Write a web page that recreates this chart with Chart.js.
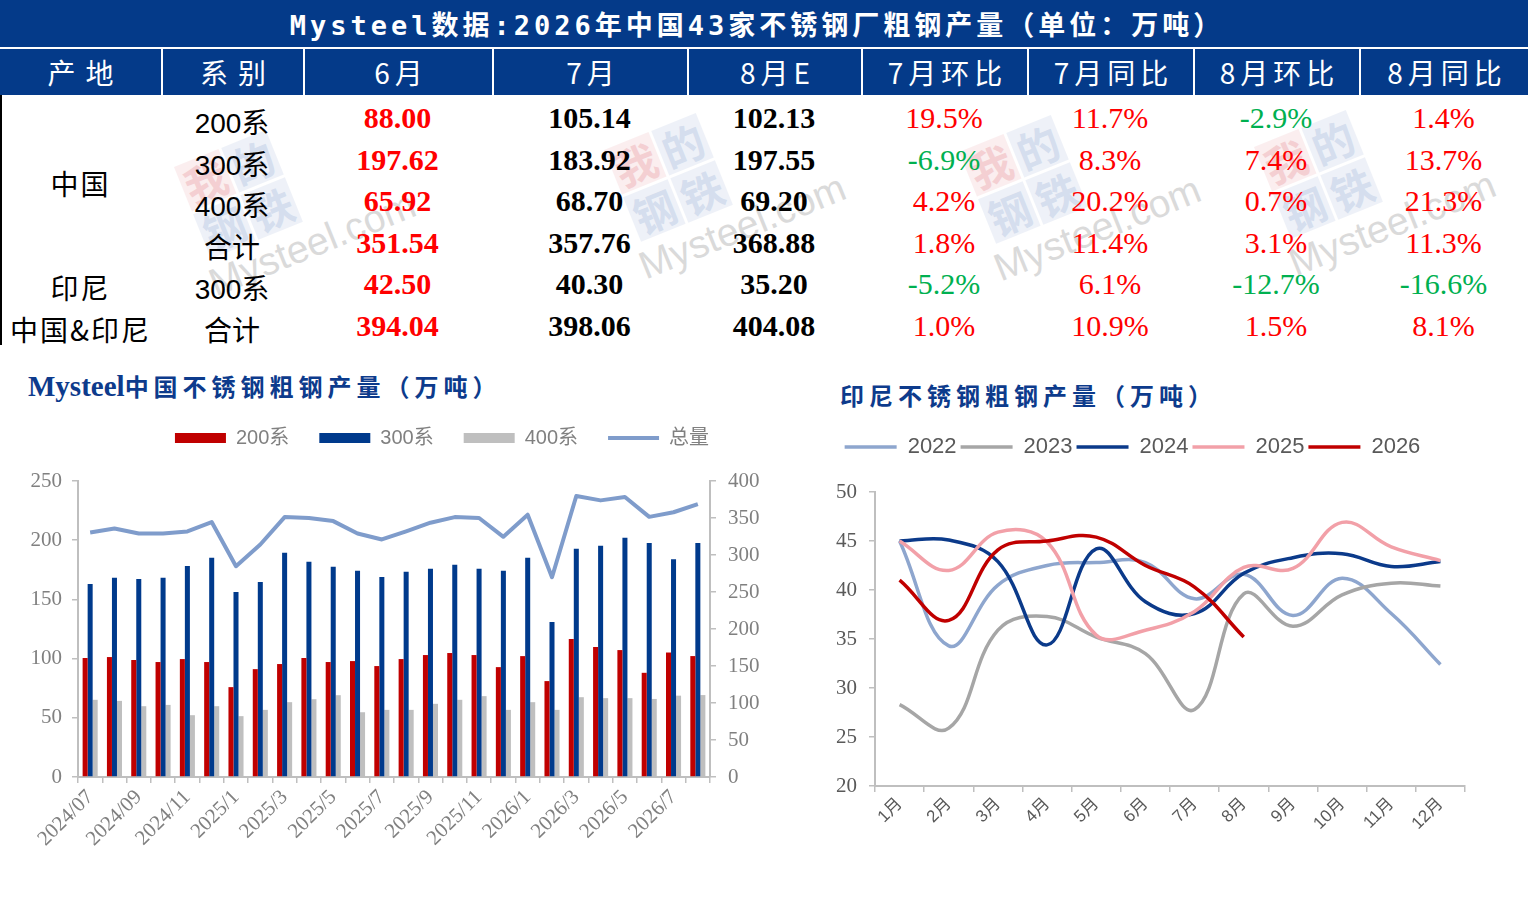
<!DOCTYPE html>
<html><head><meta charset="utf-8">
<script src="https://cdn.jsdelivr.net/npm/chart.js@4.4.1/dist/chart.umd.min.js"></script>
<style>
html,body{margin:0;padding:0;background:#fff;}
body{width:1528px;height:921px;position:relative;overflow:hidden;font-family:"Liberation Serif","Noto Sans CJK SC",serif;}
#titlebar{position:absolute;left:0;top:0;width:1514px;padding-right:14px;padding-top:4px;height:43px;background:#043A89;color:#fff;font:bold 27px "DejaVu Sans Mono","Noto Sans CJK SC",monospace;letter-spacing:4px;line-height:43px;text-align:center;z-index:2;}
.hcell{position:absolute;top:49px;height:46px;background:#043A89;color:#fff;font:28px "Noto Sans CJK SC",sans-serif;line-height:46px;text-align:center;box-sizing:border-box;z-index:2;}
.cell{position:absolute;height:40px;line-height:40px;text-align:center;white-space:nowrap;transform:translateX(-50%);z-index:2;}
.num{font:bold 30px "Liberation Serif",serif;}
.pct{font:30px "Liberation Serif",serif;}
.ser{font:28px "Liberation Sans","Noto Sans CJK SC",sans-serif;color:#000;}
.reg{font:28px "Noto Sans CJK SC",sans-serif;color:#000;letter-spacing:2px;}
.ctitle{position:absolute;color:#0D3B8C;font:bold 24px "Noto Sans CJK SC",serif;letter-spacing:5px;white-space:nowrap;z-index:2;}
.ctitle .lat{font:bold 29px "Liberation Serif",serif;letter-spacing:0;}
.wm{position:absolute;transform:rotate(-22deg);transform-origin:0 0;opacity:0.42;z-index:1;}
.wm .sq{display:grid;grid-template-columns:48px 48px;grid-gap:3px;}
.wm .sq span{display:block;width:48px;height:48px;font:bold 42px "Noto Sans CJK SC";line-height:48px;text-align:center;}
.wm .t{font:39px "Liberation Sans",sans-serif;color:#a8a8a8;margin-top:2px;margin-left:-10px;white-space:nowrap;}
#c1wrap{position:absolute;left:0;top:398px;width:884px;height:502px;z-index:3;}
#c2wrap{position:absolute;left:800px;top:432px;width:756px;height:468px;z-index:3;}
</style></head>
<body>
<div id="titlebar">Mysteel数据:2026年中国43家不锈钢厂粗钢产量（单位：万吨）</div>
<div id="table"></div>
<div class="ctitle" style="left:28px;top:368px;"><span class="lat">Mysteel</span>中国不锈钢粗钢产量（万吨）</div>
<div class="ctitle" style="left:840px;top:377px;">印尼不锈钢粗钢产量（万吨）</div>
<div id="c1wrap"><canvas id="c1"></canvas></div>
<div id="c2wrap"><canvas id="c2"></canvas></div>
<script>
// ---------- table data ----------
const tableHeaders = ['产地','系别','6月','7月','8月E','7月环比','7月同比','8月环比','8月同比'];
const colWidths = [161,142,189,195,174,166,166,166,169];
const regionLabels = ['中国','印尼','中国&印尼'];
const regionRows = [[0,3],[4,4],[5,5]];
const seriesLabels = ['200系','300系','400系','合计','300系','合计'];
const valJun = [88.00,197.62,65.92,351.54,42.50,394.04];
const valJul = [105.14,183.92,68.70,357.76,40.30,398.06];
const valAug = [102.13,197.55,69.20,368.88,35.20,404.08];
const julMoM = [19.5,-6.9,4.2,1.8,-5.2,1.0];
const julYoY = [11.7,8.3,20.2,11.4,6.1,10.9];
const augMoM = [-2.9,7.4,0.7,3.1,-12.7,1.5];
const augYoY = [1.4,13.7,21.3,11.3,-16.6,8.1];

// ---------- left chart data ----------
const monthLabels = ['2024/07','2024/08','2024/09','2024/10','2024/11','2024/12',
 '2025/1','2025/2','2025/3','2025/4','2025/5','2025/6','2025/7','2025/8','2025/9','2025/10','2025/11','2025/12',
 '2026/1','2026/2','2026/3','2026/4','2026/5','2026/6','2026/7','2026/8'];
const china200 = [100.5,101.3,98.8,97.1,99.6,97.1,75.9,91.1,95.4,100.5,97.1,97.9,93.7,99.6,103.0,104.7,103.0,92.8,102.1,81.0,116.5,109.8,107.2,88.00,105.14,102.13];
const china300 = [163.1,168.2,167.3,168.2,178.3,185.1,156.3,164.8,189.3,181.7,177.5,174.1,169.0,173.3,175.8,179.2,175.8,174.1,185.1,130.9,192.7,195.3,202.0,197.62,183.92,197.55];
const china400 = [65.2,64.3,59.8,60.9,52.2,59.8,51.4,56.7,63.2,65.7,69.1,54.7,56.7,56.7,61.8,65.2,68.3,56.7,63.2,56.7,67.4,66.6,66.6,65.92,68.70,69.20];
const chinaTotal = [330.5,335.9,329.0,329.0,331.8,344.5,284.9,314.2,351.2,349.9,345.8,329.0,321.0,332.0,343.6,351.2,350.0,324.6,354.4,270.0,379.7,373.8,378.3,351.54,357.76,368.88];

// ---------- right chart data ----------
const monthNames = ['1月','2月','3月','4月','5月','6月','7月','8月','9月','10月','11月','12月'];
const indo2022 = [45.0,34.3,40.5,42.5,42.8,42.8,39.1,41.6,37.4,41.2,37.6,32.4];
const indo2023 = [28.3,25.9,35.9,37.3,35.2,33.5,27.8,39.6,36.3,39.5,40.7,40.4];
const indo2024 = [45.0,45.1,42.9,34.4,44.2,38.8,37.6,41.7,43.3,43.7,42.4,42.9];
const indo2025 = [45.0,42.0,45.9,44.9,35.4,35.9,37.8,42.3,42.2,46.9,44.4,43.0];
const indo2026 = [41.0,36.9,44.1,45.0,45.4,42.5,40.3,35.2];

// ---------- build table ----------
const tbl = document.getElementById('table');
function addEl(cls, text, style){ const d=document.createElement('div'); d.className=cls; d.textContent=text; Object.assign(d.style, style); tbl.appendChild(d); return d; }
const colLeft = []; let acc=0; colWidths.forEach(w=>{colLeft.push(acc); acc+=w;});
const colCenter = colWidths.map((w,i)=>colLeft[i]+w/2);
tableHeaders.forEach((h,i)=>{
  addEl('hcell', h, {left:colLeft[i]+'px', width:colWidths[i]+'px', borderLeft: i>0?'2px solid #fff':'none', letterSpacing: i<2?'10px':'5px', textIndent: i<2?'10px':'5px'});
});
addEl('', '', {position:'absolute', left:'0px', top:'95px', width:'2px', height:'250px', background:'#000'});
const rowY0 = 101, rowH = 41.6;
regionLabels.forEach((r,i)=>{
  const [a,b] = regionRows[i];
  const cy = rowY0 + ((a+b)/2)*rowH;
  addEl('cell reg', r, {left:colCenter[0]+'px', top:cy+'px'});
});
const pctColor = v => v < 0 ? '#00B050' : '#FF0000';
const fmtPct = v => v.toFixed(1)+'%';
seriesLabels.forEach((s,i)=>{
  const y = rowY0 + i*rowH;
  addEl('cell ser', s, {left:colCenter[1]+'px', top:y+'px'});
  addEl('cell num', valJun[i].toFixed(2), {left:colCenter[2]+'px', top:y+'px', color:'#FF0000'});
  addEl('cell num', valJul[i].toFixed(2), {left:colCenter[3]+'px', top:y+'px', color:'#000'});
  addEl('cell num', valAug[i].toFixed(2), {left:colCenter[4]+'px', top:y+'px', color:'#000'});
  [julMoM, julYoY, augMoM, augYoY].forEach((arr,k)=>{
    addEl('cell pct', fmtPct(arr[i]), {left:colCenter[5+k]+'px', top:y+'px', color:pctColor(arr[i])});
  });
});
// watermarks
const wmPos = [[174,167],[604,150],[959,152],[1254,147]];
wmPos.forEach(([x,y])=>{
  const w = document.createElement('div'); w.className='wm'; w.style.left=x+'px'; w.style.top=y+'px';
  w.innerHTML = '<div class="sq"><span style="background:#f6d9db;color:#e58e95">我</span><span style="background:#d8e0ef;color:#9cb1d8">的</span><span style="background:#d8e0ef;color:#9cb1d8">钢</span><span style="background:#d8e0ef;color:#9cb1d8">铁</span></div><div class="t">Mysteel.com</div>';
  document.body.appendChild(w);
});

// ---------- left chart ----------
const serifTick = {family:'"Liberation Serif", serif', size:21};
new Chart(document.getElementById('c1'), {
  type:'bar',
  data:{labels:monthLabels, datasets:[
    {label:'200系', data:china200, backgroundColor:'#C00000', pointStyle:'rect', xAxisID:'x', yAxisID:'y'},
    {label:'300系', data:china300, backgroundColor:'#003A8C', pointStyle:'rect', xAxisID:'x', yAxisID:'y'},
    {label:'400系', data:china400, backgroundColor:'#BFBFBF', pointStyle:'rect', xAxisID:'x', yAxisID:'y'},
    {type:'line', label:'总量', data:chinaTotal, borderColor:'#7F9CCB', backgroundColor:'#7F9CCB', borderWidth:4, pointRadius:0, pointStyle:'line', tension:0, borderJoinStyle:'round', xAxisID:'x', yAxisID:'y2'}
  ]},
  options:{
    responsive:true, maintainAspectRatio:false, animation:false,
    layout:{padding:0},
    datasets:{bar:{categoryPercentage:0.62, barPercentage:1}},
    plugins:{
      legend:{labels:{usePointStyle:true, pointStyleWidth:51, boxHeight:10, padding:30, color:'#808080', font:{family:'"Liberation Sans","Noto Sans CJK SC",sans-serif', size:20}}},
      tooltip:{enabled:false}
    },
    scales:{
      x:{offset:true, grid:{display:true, drawOnChartArea:false, drawTicks:true, tickLength:6, color:'#BFBFBF', offset:true, lineWidth:1.5},
         border:{color:'#BFBFBF', width:2},
         ticks:{autoSkip:false, maxRotation:45, minRotation:45, color:'#808080', font:serifTick, padding:2,
                callback:(v,i)=> i%2===0 ? monthLabels[i] : ''},
         afterFit(s){ s.height = 123; }},
      xt:{type:'category', position:'top', display:true, grid:{display:false}, border:{display:false}, ticks:{display:false},
          afterFit(s){ s.height = 23; }},
      y:{position:'left', min:0, max:250, ticks:{stepSize:50, color:'#808080', font:serifTick, padding:10},
         grid:{drawOnChartArea:false, tickLength:6, color:'#BFBFBF', lineWidth:1.5}, border:{color:'#BFBFBF', width:2},
         afterFit(s){ s.width = 78; }},
      y2:{position:'right', min:0, max:400, ticks:{stepSize:50, color:'#808080', font:serifTick, padding:12},
         grid:{drawOnChartArea:false, tickLength:6, color:'#BFBFBF', lineWidth:1.5}, border:{color:'#BFBFBF', width:2},
         afterFit(s){ s.width = 174; }}
    }
  }
});

// ---------- right chart ----------
const lineDs = (label, data, color, order) => ({label, data, borderColor:color, backgroundColor:color, borderWidth:3.5, pointRadius:0, pointStyle:'line', tension:0.4, order, xAxisID:'x', yAxisID:'y'});
new Chart(document.getElementById('c2'), {
  type:'line',
  data:{labels:monthNames, datasets:[
    lineDs('2022', indo2022, '#8EA6CE', 4),
    lineDs('2023', indo2023, '#A6A6A6', 3),
    lineDs('2024', indo2024, '#0B3A8A', 2),
    lineDs('2025', indo2025, '#F2A0A8', 1),
    lineDs('2026', indo2026, '#C00000', 0)
  ]},
  options:{
    responsive:true, maintainAspectRatio:false, animation:false,
    layout:{padding:{right:91}},
    plugins:{
      legend:{labels:{usePointStyle:true, pointStyleWidth:52, padding:4, color:'#595959',
              font:{family:'"Liberation Sans",sans-serif', size:22}, sort:(a,b)=>a.datasetIndex-b.datasetIndex}},
      tooltip:{enabled:false}
    },
    scales:{
      x:{offset:true, grid:{display:true, drawOnChartArea:false, tickLength:6, color:'#BFBFBF', offset:true, lineWidth:1.5},
         border:{color:'#BFBFBF', width:2},
         ticks:{autoSkip:false, maxRotation:45, minRotation:45, color:'#595959', font:{family:'"Liberation Sans","Noto Sans CJK SC",sans-serif', size:17}, padding:2},
         afterFit(s){ s.height = 114; }},
      xt:{type:'category', position:'top', display:true, grid:{display:false}, border:{display:false}, ticks:{display:false},
          afterFit(s){ s.height = 24; }},
      y:{min:20, max:50, ticks:{stepSize:5, color:'#595959', font:serifTick, padding:12},
         grid:{drawOnChartArea:false, tickLength:6, color:'#BFBFBF', lineWidth:1.5}, border:{color:'#BFBFBF', width:2},
         afterFit(s){ s.width = 75; }}
    }
  }
});
</script>
</body></html>
